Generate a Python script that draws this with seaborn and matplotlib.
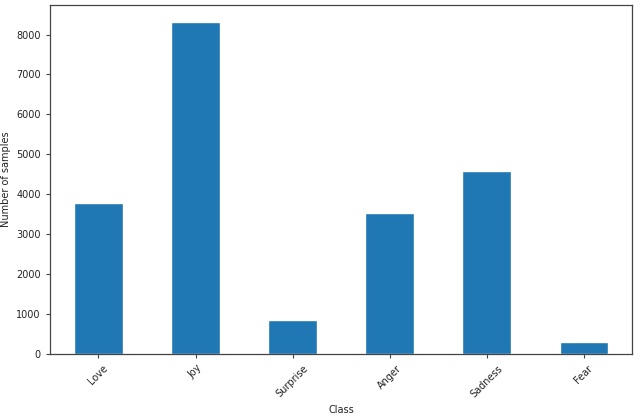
import matplotlib
matplotlib.use("Agg")
import matplotlib.pyplot as plt
import seaborn as sns
import pandas as pd

classes = ['Love', 'Joy', 'Surprise', 'Anger', 'Sadness', 'Fear']
counts = [3780, 8320, 860, 3530, 4590, 290]

df = pd.DataFrame({'Class': classes, 'Number of samples': counts})

sns.set_style('ticks')
plt.rcParams['font.family'] = ['DejaVu Sans']

fig = plt.figure(figsize=(6.4, 4.17), dpi=100)
ax = fig.add_axes([0.078, 0.151, 0.91, 0.837])
sns.barplot(data=df, x='Class', y='Number of samples', color='#1f77b4',
            saturation=1, width=0.5, ax=ax)
ax.set_xlim(-0.5, 5.5)
ax.set_ylim(0, 8740)
ax.set_yticks(range(0, 9000, 1000))
for s in ax.spines.values():
    s.set_visible(True)
    s.set_color('#444444')
    s.set_linewidth(0.9)
ax.tick_params(labelsize=7, length=3, color='#444444', labelcolor='#222222')
plt.setp(ax.get_xticklabels(), rotation=45)
ax.set_xlabel('Class', fontsize=7, color='#222222')
ax.set_ylabel('Number of samples', fontsize=7, color='#222222')

fig.savefig('out.png', dpi=100)
